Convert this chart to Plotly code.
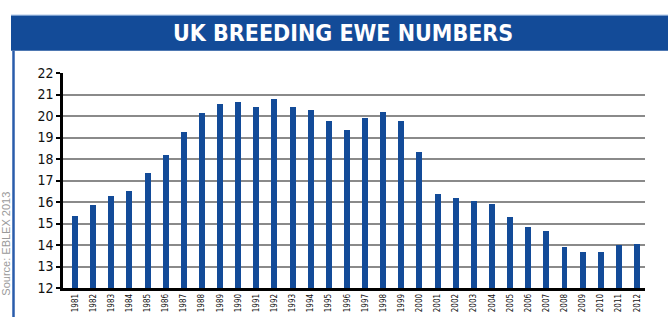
import plotly.graph_objects as go

years = list(range(1981, 2013))
ewes = [15.36, 15.86, 16.30, 16.53, 17.34, 18.19, 19.26, 20.12, 20.56, 20.65,
        20.43, 20.79, 20.43, 20.30, 19.76, 19.35, 19.90, 20.20, 19.76, 18.32,
        16.35, 16.17, 16.04, 15.90, 15.32, 14.83, 14.65, 13.89, 13.66, 13.66,
        13.98, 14.07]
year_labels = [str(y) for y in years]
y_ticks = list(range(12, 23))

BLUE = "#134b98"
COND = "DejaVu Sans Condensed"
W, H = 668, 324
L, R, T, B = 63, 23, 73, 28
pw, ph = W - L - R, H - T - B

def px_x(p):
    return (p - L) / pw

def px_y(p):
    return (H - B - p) / ph

fig = go.Figure()
fig.add_trace(go.Bar(x=years, y=ewes, width=0.33, marker=dict(color=BLUE, line=dict(width=0))))

fig.update_layout(
    width=W, height=H, margin=dict(l=L, r=R, t=T, b=B),
    paper_bgcolor="white", plot_bgcolor="white", showlegend=False,
    bargap=0,
    xaxis=dict(range=[1980.338, 2012.441], tickmode="array", tickvals=years, ticktext=year_labels,
               tickangle=-90, tickfont=dict(family=COND, size=8, color="#111"),
               showline=True, linecolor="black", linewidth=2.5, showgrid=False, ticks="",
               zeroline=False),
    yaxis=dict(range=[12, 22], tickmode="array", tickvals=y_ticks,
               tickfont=dict(family=COND, size=14, color="#111"),
               showline=True, linecolor="black", linewidth=2.5, ticks="outside", ticklen=4,
               tickwidth=2, tickcolor="black", showgrid=True, gridcolor="#8a8a8a", gridwidth=1.5,
               zeroline=False),
    font=dict(family=COND),
)

# header band
fig.add_shape(type="rect", xref="paper", yref="paper",
              x0=px_x(11), x1=px_x(670), y0=px_y(50), y1=px_y(13),
              fillcolor=BLUE, line=dict(width=0), layer="above")
fig.add_shape(type="line", xref="paper", yref="paper",
              x0=px_x(11), x1=px_x(670), y0=px_y(13), y1=px_y(13),
              line=dict(color="#8fb0dc", width=1))
# left vertical rule
fig.add_shape(type="line", xref="paper", yref="paper",
              x0=px_x(13.5), x1=px_x(13.5), y0=px_y(50), y1=px_y(326),
              line=dict(color="#2a5cab", width=2.5))

fig.add_annotation(xref="paper", yref="paper", x=px_x(343), y=px_y(32),
                   text="<b>UK BREEDING EWE NUMBERS</b>", showarrow=False,
                   font=dict(family=COND, size=23, color="white"),
                   xanchor="center", yanchor="middle")

fig.add_annotation(xref="paper", yref="paper", x=px_x(6), y=px_y(250),
                   text="Source: EBLEX 2013", showarrow=False, textangle=-90,
                   font=dict(family="Liberation Sans", size=11, color="#9a9a9a"),
                   xanchor="center", yanchor="middle")

fig.write_html("out.html")
